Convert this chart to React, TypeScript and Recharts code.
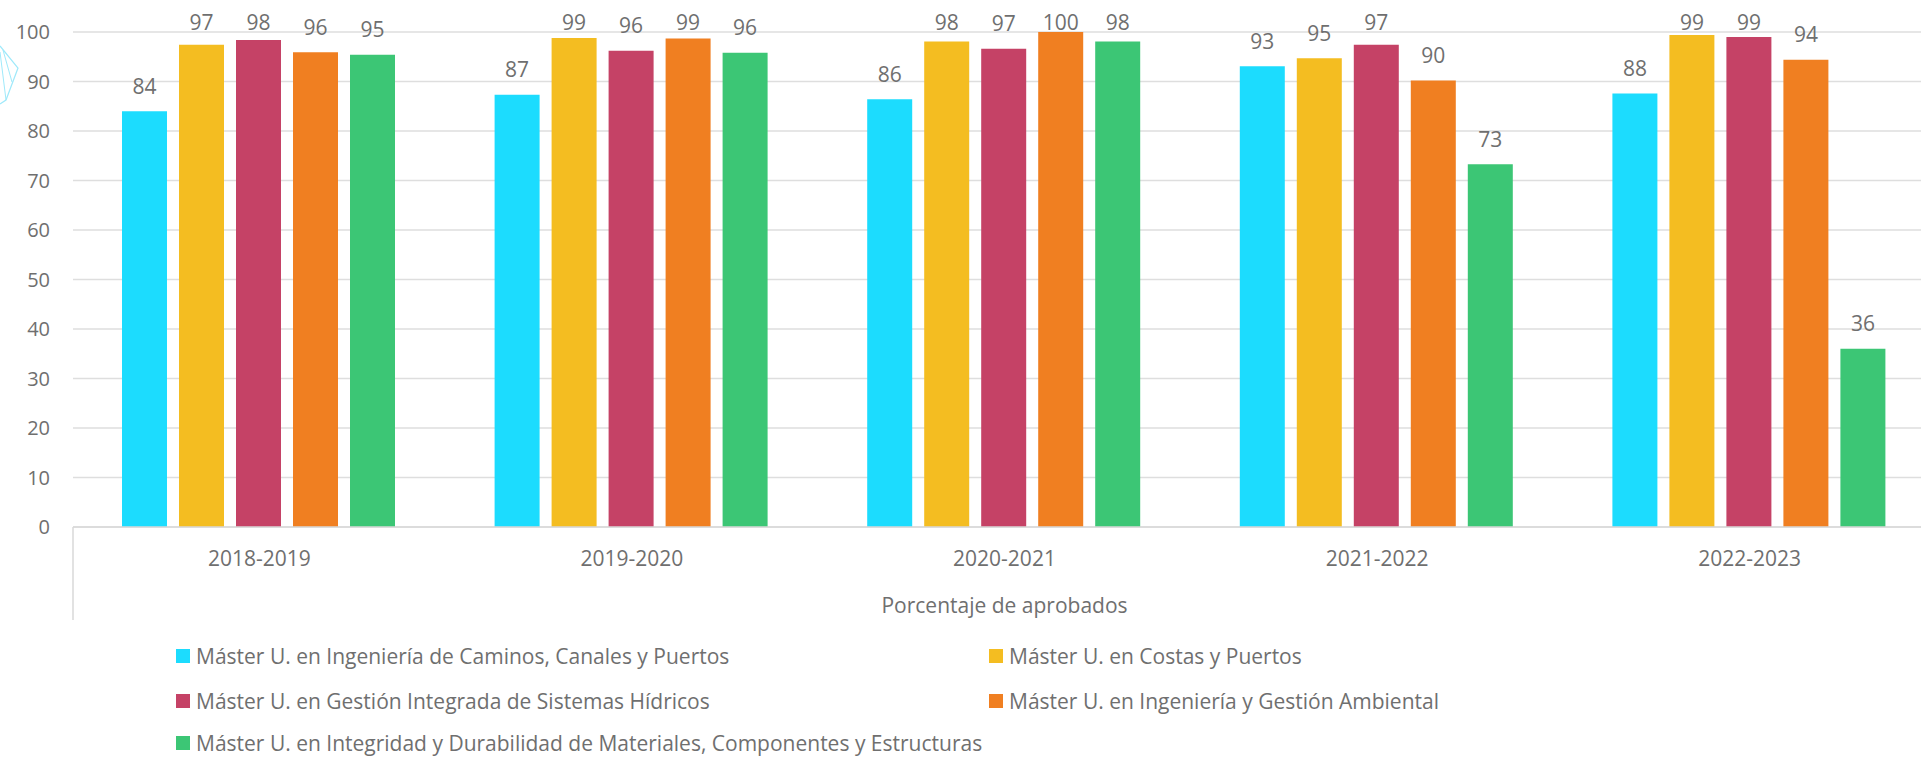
import React from 'react';
import { BarChart, Bar, XAxis, YAxis, CartesianGrid, LabelList, Legend, Label } from 'recharts';

const years = ['2018-2019', '2019-2020', '2020-2021', '2021-2022', '2022-2023'];
const caminos = [84.0, 87.3, 86.4, 93.1, 87.6];
const costas = [97.4, 98.8, 98.1, 94.7, 99.4];
const hidricos = [98.4, 96.2, 96.6, 97.4, 99.0];
const ambiental = [95.9, 98.7, 100, 90.2, 94.4];
const materiales = [95.4, 95.8, 98.1, 73.3, 36.0];
const yTicks = [0, 10, 20, 30, 40, 50, 60, 70, 80, 90, 100];

const series = [
  { key: 'caminos', name: 'Máster U. en Ingeniería de Caminos, Canales y Puertos', color: '#1cdcfe', values: caminos },
  { key: 'costas', name: 'Máster U. en Costas y Puertos', color: '#f4bd21', values: costas },
  { key: 'hidricos', name: 'Máster U. en Gestión Integrada de Sistemas Hídricos', color: '#c54266', values: hidricos },
  { key: 'ambiental', name: 'Máster U. en Ingeniería y Gestión Ambiental', color: '#f07f21', values: ambiental },
  { key: 'materiales', name: 'Máster U. en Integridad y Durabilidad de Materiales, Componentes y Estructuras', color: '#3cc675', values: materiales },
];

const data = years.map((year, i) => {
  const row: Record<string, string | number> = { year };
  series.forEach(s => { row[s.key] = s.values[i]; });
  return row;
});

const FONT = '"Open Sans", sans-serif';
const TEXT = '#6f6f6f';
const Y_AXIS_W = 73;
const TOP = 32;
const X_AXIS_H = 93;
const BOTTOM = 138;
const CHART_W = 1940;
const CHART_H = 758;
const PLOT_BOTTOM = CHART_H - BOTTOM - X_AXIS_H;

// Excel-style label: sits above the bar, but never above the plot top
const BarValue = (props: any) => {
  const { x, y, width, value } = props;
  const baseline = Math.max(Number(y) - 17.5, TOP - 2);
  return (
    <text x={Number(x) + Number(width) / 2} y={baseline} textAnchor="middle" fill={TEXT} fontSize={21} fontFamily={FONT}>
      {Math.round(Number(value))}
    </text>
  );
};

const legendCols = [176, 989];
const legendRows = [6, 51, 93];

const LegendGrid = (props: any) => {
  const payload = props.payload || [];
  const ordered = series.map(s => payload.find((p: any) => p.dataKey === s.key) || { value: s.name, color: s.color });
  return (
    <div style={{ position: 'relative', width: 1921, height: 118 }}>
      {ordered.map((p: any, i: number) => (
        <div
          key={i}
          style={{
            position: 'absolute',
            left: legendCols[i % 2],
            top: legendRows[Math.floor(i / 2)],
            height: 20,
            lineHeight: '20px',
            display: 'flex',
            alignItems: 'center',
            whiteSpace: 'nowrap',
            fontFamily: FONT,
            fontSize: 21,
            color: TEXT,
          }}
        >
          <span style={{ width: 14, height: 14, background: p.color, marginRight: 6, display: 'inline-block' }} />
          <span>{p.value}</span>
        </div>
      ))}
    </div>
  );
};

const App: React.FC = () => {
  return (
    <div style={{ position: 'fixed', left: 0, top: 0, width: 1921, height: 758, overflow: 'hidden', background: '#fff' }}>
      <svg width={24} height={120} style={{ position: 'absolute', left: 0, top: 0 }}>
        <polyline points="0,46 18,68 6,100 0,104" fill="none" stroke="#9fe9fa" strokeWidth={1.2} />
        <polyline points="0,52 6,100" fill="none" stroke="#9fe9fa" strokeWidth={1} />
        <polyline points="3,50 12,82" fill="none" stroke="#9fe9fa" strokeWidth={1} />
      </svg>
      <BarChart
        width={CHART_W}
        height={CHART_H}
        data={data}
        margin={{ top: TOP, right: 4, bottom: BOTTOM, left: 0 }}
        barCategoryGap={49}
        barGap={12}
        style={{ fontFamily: FONT }}
      >
        <CartesianGrid vertical={false} stroke="#dedede" strokeWidth={1.5} />
        <XAxis
          dataKey="year"
          height={X_AXIS_H}
          tickLine={false}
          tickSize={0}
          tickMargin={24}
          axisLine={{ stroke: '#d9d9d9', strokeWidth: 1.5 }}
          tick={{ fill: TEXT, fontSize: 21, fontFamily: FONT }}
        >
          <Label value="Porcentaje de aprobados" position="insideBottom" offset={7} fill={TEXT} fontSize={21} fontFamily={FONT} />
        </XAxis>
        <YAxis
          width={Y_AXIS_W}
          domain={[0, 100]}
          ticks={yTicks}
          axisLine={false}
          tickLine={false}
          tickSize={0}
          tickMargin={23}
          tick={{ fill: TEXT, fontSize: 20, fontFamily: FONT }}
        />
        <Legend
          layout="horizontal"
          verticalAlign="middle"
          align="center"
          wrapperStyle={{ position: 'absolute', left: 0, top: 640, width: 1921, height: 118 }}
          content={LegendGrid}
        />
        {series.map(s => (
          <Bar key={s.key} dataKey={s.key} name={s.name} fill={s.color} isAnimationActive={false}>
            <LabelList dataKey={s.key} content={BarValue} />
          </Bar>
        ))}
      </BarChart>
      <svg width={4} height={X_AXIS_H + 2} style={{ position: 'absolute', left: Y_AXIS_W - 1, top: PLOT_BOTTOM }}>
        <line x1={1} y1={0} x2={1} y2={X_AXIS_H} stroke="#d9d9d9" strokeWidth={1.5} />
      </svg>
    </div>
  );
};

export default App;
